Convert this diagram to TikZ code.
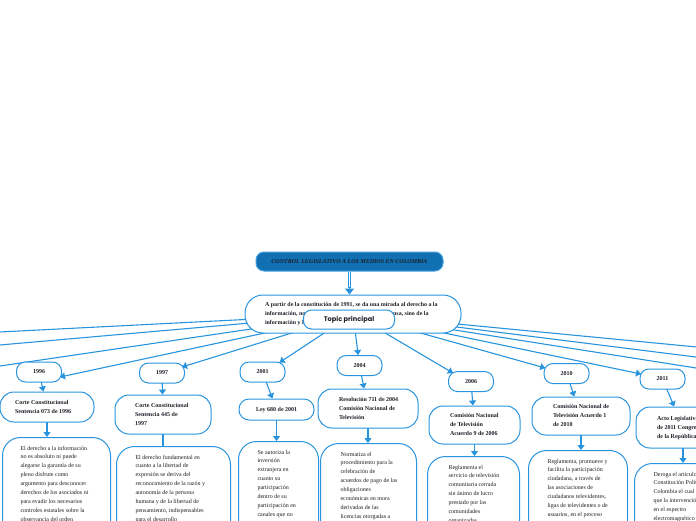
\documentclass[tikz,border=0pt]{standalone}
\usepackage{fontspec}
\setmainfont{Liberation Serif}
\newfontfamily\topicfont{Poppins}
\usetikzlibrary{arrows.meta,calc}
\definecolor{mmblue}{RGB}{40,148,222}
\definecolor{titlefill}{RGB}{16,112,178}
\definecolor{titleedge}{RGB}{70,160,225}
\definecolor{inktext}{RGB}{30,30,40}
\pgfdeclarelayer{bg}
\pgfsetlayers{bg,main}
\newcommand\mmlaw[2]{\makebox[#1][l]{\begin{tabular}{@{}l@{}}#2\end{tabular}}}
\newcommand\mmtop[2]{\parbox[t][118pt][t]{#1}{\begin{tabular}[t]{@{}l@{}}#2\end{tabular}}}
\tikzset{
  base/.style={draw=mmblue, line width=1pt, fill=white, text=inktext},
  titlebox/.style={draw=titleedge, line width=1pt, fill=titlefill, text=inktext, rounded corners=8pt,
    minimum width=187pt, minimum height=19pt, inner sep=0pt, font=\fontsize{6}{8}\selectfont\bfseries\itshape},
  mainbox/.style={base, rounded corners=18pt, minimum width=216pt, minimum height=38pt,
    inner xsep=20pt, inner ysep=0pt, font=\fontsize{5.95}{8.8}\selectfont\bfseries},
  topicbox/.style={base, rounded corners=8pt, minimum width=91pt, minimum height=19pt,
    inner sep=0pt, font=\topicfont\fontsize{6.6}{8}\selectfont\bfseries},
  yearbox/.style={base, rounded corners=9pt, minimum width=45pt, minimum height=20pt,
    inner sep=0pt, font=\fontsize{6}{9}\selectfont\bfseries},
  lawbox/.style={base, rounded corners=14pt, inner ysep=0pt, font=\fontsize{6}{9}\selectfont\bfseries},
  descbox/.style={base, rounded corners=18pt, inner ysep=6.3pt, anchor=north west,
    font=\fontsize{6}{8.9}\selectfont},
  conn/.style={draw=mmblue, line width=1.1pt},
  arr/.style={conn, -{Triangle[width=7pt,length=5pt]}},
}
\begin{document}
\begin{tikzpicture}[x=1pt,y=-1pt]
\useasboundingbox (0,0) rectangle (696,520);

% title and main
\node[titlebox] (title) at (349.5,261.5) {CONTROL LEGISLATIVO A LOS MEDIOS EN COLOMBIA};
\node[mainbox] (main) at (353,314) {\mmlaw{176pt}{A partir de la constitución de 1991, se da una mirada al derecho a la\\
información, no solamente desde la libertad de prensa, sino de la\\
información y la comunicación.}};
\node[topicbox] (topic) at (349,319.5) {Topic principal};

% years
\node[yearbox] (y96) at (39,372) {1996};
\node[yearbox] (y97) at (162,373) {1997};
\node[yearbox] (y01) at (262.5,372) {2001};
\node[yearbox] (y04) at (359.5,365.5) {2004};
\node[yearbox] (y06) at (471,381.5) {2006};
\node[yearbox] (y10) at (566.5,373.5) {2010};
\node[yearbox] (y11) at (662.5,379) {2011};

% laws
\node[lawbox, inner xsep=15pt, minimum height=30pt] (law96) at (47,407)
  {\mmlaw{64pt}{Corte Constitucional\\Sentencia 073 de 1996}};
\node[lawbox, inner xsep=20pt, minimum height=39pt] (law97) at (163,414.5)
  {\mmlaw{56pt}{Corte Constitucional\\Sentencia 445 de\\1997}};
\node[lawbox, rounded corners=10pt, inner xsep=17pt, minimum height=21pt] (law01) at (276.5,409.5)
  {\mmlaw{41pt}{Ley 680 de 2001}};
\node[lawbox, inner xsep=21pt, minimum height=39pt] (law04) at (368,408.5)
  {\mmlaw{58pt}{Resolución 711 de 2004\\Comisión Nacional de\\Televisión}};
\node[lawbox, inner xsep=21pt, minimum height=38pt] (law06) at (474.5,425)
  {\mmlaw{49pt}{Comisión Nacional\\de Televisión\\Acuerdo 9 de 2006}};
\node[lawbox, inner xsep=21pt, minimum height=38pt] (law10) at (581,416)
  {\mmlaw{56pt}{Comisión Nacional de\\Televisión Acuerdo 1\\de 2010}};
\node[lawbox, inner xsep=21pt, minimum height=41pt] (law11) at (683,427.5)
  {\mmlaw{52pt}{Acto Legislativo 02\\de 2011 Congreso\\de la República}};

% descriptions
\node[descbox, inner xsep=18pt] (d96) at (2,437) {\mmtop{72pt}{El derecho a la información\\no es absoluto ni puede\\alegarse la garantía de su\\pleno disfrute como\\argumento para desconocer\\derechos de los asociados ni\\para evadir los necesarios\\controles estatales sobre la\\observancia del orden}};
\node[descbox, inner xsep=19pt] (d97) at (116,446) {\mmtop{76pt}{El derecho fundamental en\\cuanto a la libertad de\\expresión se deriva del\\reconocimiento de la razón y\\autonomía de la persona\\humana y de la libertad de\\pensamiento, indispensables\\para el desarrollo}};
\node[descbox, inner xsep=19pt] (d01) at (238,441) {\mmtop{42pt}{Se autoriza la\\inversión\\extranjera en\\cuanto su\\participación\\dentro de su\\participación en\\canales que no}};
\node[descbox, inner xsep=20pt] (d04) at (320,443) {\mmtop{56pt}{Normatiza el\\procedimiento para la\\celebración de\\acuerdos de pago de las\\obligaciones\\económicas en mora\\derivadas de las\\licencias otorgadas a}};
\node[descbox, inner xsep=21pt] (d06) at (427,456) {\mmtop{50pt}{Reglamenta el\\servicio de televisión\\comunitaria cerrada\\sin ánimo de lucro\\prestado por las\\comunidades\\organizadas}};
\node[descbox, inner xsep=19pt] (d10) at (528,450) {\mmtop{61pt}{Reglamenta, promueve y\\facilita la participación\\ciudadana, a través de\\las asociaciones de\\ciudadanos televidentes,\\ligas de televidentes o de\\usuarios, en el proceso}};
\node[descbox, inner xsep=19pt] (d11) at (634,463) {\mmtop{62pt}{Deroga el artículo 76 de la\\Constitución Política de\\Colombia el cual establecía\\que la intervención estatal\\en el espectro\\electromagnético utilizado}};

% off-page ends
\coordinate (offL1) at (-30,333.5);
\coordinate (offL2) at (-30,347.6);
\coordinate (offL3) at (-30,370.4);
\coordinate (offR1) at (726,349.8);
\coordinate (offR2) at (726,360.8);
\coordinate (offR3) at (726,372.7);
\coordinate (tipbase) at ($(title.south |- main.north)+(0,-7)$);

\begin{pgfonlayer}{bg}
  % title to main (double arrow)
  \draw[draw=mmblue, double=white, double distance=1.8pt, line width=0.9pt] (title.south) -- (tipbase);
  \draw[draw=mmblue, line width=1pt, -{Triangle[width=9pt,length=6pt]}] ($(tipbase)+(0,-1)$) -- (title.south |- main.north);
  % main to off-page branches
  \draw[conn] (main.center) -- (offL1);
  \draw[conn] (main.center) -- (offL2);
  \draw[conn] (main.center) -- (offL3);
  \draw[conn] (main.center) -- (offR1);
  \draw[conn] (main.center) -- (offR2);
  \draw[conn] (main.center) -- (offR3);
  % main to years
  \draw[arr] (main.center) -- ($(y96.center)+(21,5)$);
  \draw[arr] (main.center) -- ($(y97.center)+(20,-6)$);
  \draw[arr] (main.center) -- ($(y01.center)+(17,-9.5)$);
  \draw[arr] (main.center) -- (y04);
  \draw[arr] (main.center) -- ($(y06.center)+(-18,-8.5)$);
  \draw[arr] (main.center) -- ($(y10.center)+(-21.3,-5.5)$);
  \draw[arr] (main.center) -- ($(y11.center)+(-21.5,-5)$);
  % years to laws
  \draw[arr] (y96.center) -- (law96);
  \draw[arr] (y97.center) -- (law97);
  \draw[arr] (y01.center) -- (law01);
  \draw[arr] (y04.center) -- (law04);
  \draw[arr] (y06.center) -- (law06);
  \draw[arr] (y10.center) -- (law10);
  \draw[arr] (y11.center) -- (law11);
  % laws to descriptions
  \draw[arr] (law96.center) -- (law96.center |- d96.north);
  \draw[conn] (law97.center) -- (law97.center |- d97.north);
  \draw[arr] (law01.center) -- (law01.center |- d01.north);
  \draw[arr] (law04.center) -- (law04.center |- d04.north);
  \draw[arr] (law06.center) -- (law06.center |- d06.north);
  \draw[arr] (law10.center) -- (law10.center |- d10.north);
  \draw[arr] (law11.center) -- (law11.center |- d11.north);
\end{pgfonlayer}
\end{tikzpicture}
\end{document}
